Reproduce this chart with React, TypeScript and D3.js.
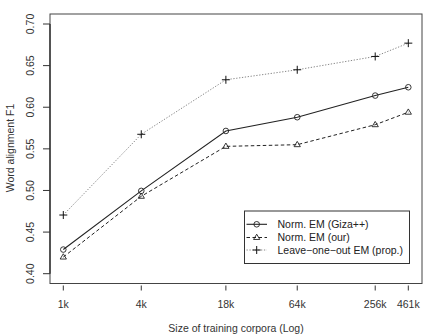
import React from "react";
import * as d3 from "d3";

const sizes = [1000, 4000, 18000, 64000, 256000, 461000];
const sizeLabels = ["1k", "4k", "18k", "64k", "256k", "461k"];
const yTicks = [0.4, 0.45, 0.5, 0.55, 0.6, 0.65, 0.7];
const gizaValues = [0.429, 0.4995, 0.5715, 0.588, 0.614, 0.624];
const ourValues = [0.42, 0.493, 0.553, 0.555, 0.579, 0.594];
const looValues = [0.4705, 0.5675, 0.633, 0.645, 0.661, 0.677];
const seriesNames = ["Norm. EM (Giza++)", "Norm. EM (our)", "Leave\u2212one\u2212out EM (prop.)"];

const W = 425, H = 334;
const box = { left: 50, right: 422, top: 14, bottom: 283.5 };
const FONT = "Liberation Sans, Arial, Helvetica, sans-serif";
const FS = 10.5;

export default function App() {
  const x = d3.scaleLog().domain([1000, 461000]).range([63.3, 408.3]);
  const y = d3.scaleLinear().domain([0.4, 0.7]).range([273.7, 24]);

  const line = d3
    .line<number>()
    .x((_, i) => x(sizes[i]))
    .y((d) => y(d));

  const circle = (cx: number, cy: number, key: string) => (
    <circle key={key} cx={cx} cy={cy} r={2.8} fill="none" stroke="#222" strokeWidth={0.9} />
  );
  const tri = (cx: number, cy: number, key: string) => {
    const r = 3.3;
    return (
      <path
        key={key}
        d={`M${cx},${cy - r} L${cx + r * 0.95},${cy + r * 0.6} L${cx - r * 0.95},${cy + r * 0.6} Z`}
        fill="none"
        stroke="#222"
        strokeWidth={0.9}
      />
    );
  };
  const plus = (cx: number, cy: number, key: string) => {
    const r = 4;
    return (
      <path key={key} d={`M${cx - r},${cy} H${cx + r} M${cx},${cy - r} V${cy + r}`} stroke="#111" strokeWidth={1} />
    );
  };

  const series = [
    { values: gizaValues, stroke: "#222", dash: "none", width: 1.1, marker: circle },
    { values: ourValues, stroke: "#222", dash: "3.5,2.5", width: 1, marker: tri },
    { values: looValues, stroke: "#888", dash: "1.3,1.6", width: 1, marker: plus },
  ];

  const legendX = 244.5, legendY = 211, legendW = 165, legendH = 52.5;
  const legendRows = [224.3, 237.5, 250];

  return (
    <svg width={W} height={H} style={{ position: "absolute", left: 0, top: 0, background: "#fff" }}>
      <rect x={0} y={0} width={W} height={H} fill="#fff" />
      <rect
        x={box.left}
        y={box.top}
        width={box.right - box.left}
        height={box.bottom - box.top}
        fill="none"
        stroke="#444"
        strokeWidth={1}
      />
      <line x1={box.left} x2={box.left} y1={y(0.4)} y2={y(0.7)} stroke="#333" strokeWidth={1.4} />
      {yTicks.map((t) => (
        <g key={t}>
          <line x1={43} x2={box.left} y1={y(t)} y2={y(t)} stroke="#333" strokeWidth={1} />
          <text
            transform={`translate(33.8,${y(t)}) rotate(-90)`}
            textAnchor="middle"
            fontFamily={FONT}
            fontSize={FS}
            fill="#333"
          >
            {t.toFixed(2)}
          </text>
        </g>
      ))}
      {sizes.map((s, i) => (
        <g key={s}>
          <line x1={x(s)} x2={x(s)} y1={285.5} y2={290.5} stroke="#333" strokeWidth={1} />
          <text x={x(s)} y={308} textAnchor="middle" fontFamily={FONT} fontSize={FS} fill="#333">
            {sizeLabels[i]}
          </text>
        </g>
      ))}
      <text x={236} y={331.5} textAnchor="middle" fontFamily={FONT} fontSize={FS} fill="#333">
        Size of training corpora (Log)
      </text>
      <text
        transform={`translate(13.5,148) rotate(-90)`}
        textAnchor="middle"
        fontFamily={FONT}
        fontSize={FS}
        fill="#333"
      >
        Word alignment F1
      </text>
      {series.map((s, si) => (
        <g key={si}>
          <path
            d={line(s.values) || ""}
            fill="none"
            stroke={s.stroke}
            strokeWidth={s.width}
            strokeDasharray={s.dash}
          />
          {s.values.map((v, i) => s.marker(x(sizes[i]), y(v), `${si}-${i}`))}
        </g>
      ))}
      <rect x={legendX} y={legendY} width={legendW} height={legendH} fill="#fff" stroke="#333" strokeWidth={1} />
      {series.map((s, si) => (
        <g key={si}>
          <line
            x1={246.5}
            x2={267}
            y1={legendRows[si]}
            y2={legendRows[si]}
            stroke={s.stroke}
            strokeWidth={s.width}
            strokeDasharray={s.dash}
          />
          {s.marker(256.7, legendRows[si], `leg-${si}`)}
          <text x={277.5} y={legendRows[si] + 3.7} fontFamily={FONT} fontSize={FS} fill="#222">
            {seriesNames[si]}
          </text>
        </g>
      ))}
    </svg>
  );
}
